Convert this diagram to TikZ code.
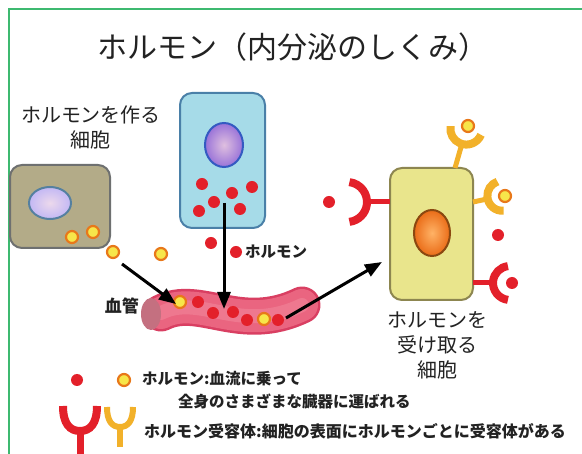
\documentclass[tikz,border=0pt]{standalone}
\usepackage{fontspec}
\newfontfamily\jp{Noto Sans CJK JP}
\usetikzlibrary{arrows.meta,shapes.geometric}

\definecolor{framegreen}{HTML}{3DB970}
\definecolor{hred}{HTML}{E3202A}
\definecolor{hyellow}{HTML}{F7E64A}
\definecolor{horange}{HTML}{E8781A}
\definecolor{rorange}{HTML}{F2B12A}
\definecolor{oldcell}{HTML}{B3AB88}
\definecolor{oldedge}{HTML}{6E7070}
\definecolor{bluecell}{HTML}{A6DBE8}
\definecolor{blueedge}{HTML}{4A80A8}
\definecolor{yelcell}{HTML}{E9E58C}
\definecolor{yeledge}{HTML}{8D8650}
\definecolor{vesseledge}{HTML}{D93F62}
\definecolor{vesselfill}{HTML}{EA6580}
\definecolor{vessellight}{HTML}{F28C9E}
\definecolor{vesselend}{HTML}{C47080}
\definecolor{textgray}{HTML}{222222}

\tikzset{
  cellbox/.style={draw, line width=2, rounded corners=12, inner sep=0},
  nucleus/.style={ellipse, draw, line width=2, inner sep=0},
  reddot/.style={circle, fill=hred, minimum size=12, inner sep=0},
  yeldot/.style={circle, fill=hyellow, draw=horange, line width=2.2, minimum size=12, inner sep=0},
  flowarrow/.style={line width=3, -{Triangle[length=17,width=13]}},
  serifjp/.style={font=\jp\fontsize{20}{25}\selectfont, text=textgray, align=center, inner sep=0},
  boldjp/.style={font=\jp\bfseries\fontsize{15.5}{16}\selectfont, text=textgray, inner sep=0},
  pics/receptor/.style n args={4}{code={
    \draw[#1, line width=5] (0,0) -- (#2+1,0);
    \draw[#1, line width=#4] (#2+#3,0) ++(97:#3) arc[start angle=97, end angle=263, radius=#3];
  }},
}

\begin{document}
\begin{tikzpicture}[x=1pt, y=-1pt]
\useasboundingbox (0,0) rectangle (582,454);
\fill[white] (0,0) rectangle (582,454);

% green frame
\draw[framegreen, line width=2.5] (9,470) -- (9,9) -- (600,9);

% title
\node[font=\jp\fontsize{30}{30}\selectfont, text=textgray, inner sep=0] (title) at (293,47) {ホルモン（内分泌のしくみ）};

% hormone-producing cell (olive)
\node[cellbox, fill=oldcell, draw=oldedge, minimum width=100, minimum height=83] (cellA) at (60,206.5) {};
\node[nucleus, draw=blueedge!80!gray, inner color=violet!15!white, outer color=violet!30!blue!28!white, minimum width=42, minimum height=32] (nucA) at (50,203) {};
\node[yeldot] (ya1) at (72,237) {};
\node[yeldot] (ya2) at (93,232) {};
\node[serifjp] (labelA) at (91,127) {ホルモンを作る\\細胞};

% hormone-producing cell (blue)
\node[cellbox, fill=bluecell, draw=blueedge, minimum width=85, minimum height=135] (cellB) at (222.5,160.5) {};
\node[nucleus, draw=blueedge!70!blue, inner color=violet!25!white, outer color=violet!55!blue!55!white, minimum width=38, minimum height=44] (nucB) at (224,145) {};
\node[reddot] (rb1) at (202,184) {};
\node[reddot] (rb2) at (232,193) {};
\node[reddot] (rb3) at (252,187) {};
\node[reddot] (rb4) at (214,202) {};
\node[reddot] (rb5) at (199,211) {};
\node[reddot] (rb6) at (240,209) {};

% released hormones
\node[reddot] (rf1) at (211,243) {};
\node[reddot] (rf2) at (236,252) {};
\node[yeldot] (yf1) at (113,252) {};
\node[yeldot] (yf2) at (161,254) {};
\node[boldjp, anchor=west] (hormlabel) at (245,252) {ホルモン};

% blood vessel
\coordinate (v0) at (161,313);
\coordinate (v1) at (302,305);
\draw[vesseledge, line width=37, line cap=round] (v0) .. controls (200,293) and (240,335) .. (v1);
\draw[vesselfill, line width=32, line cap=round] (v0) .. controls (200,293) and (240,335) .. (v1);
\draw[vessellight, line width=14, line cap=round, opacity=0.5] (v0) .. controls (200,293) and (240,335) .. (v1);
\node[ellipse, fill=vesselend, minimum width=20, minimum height=32, inner sep=0] (vopen) at (151,314) {};
\node[boldjp, font=\jp\bfseries\fontsize{17}{17}\selectfont, anchor=east] (vessellabel) at (139,306) {血管};
\node[yeldot] (vy1) at (180,302) {};
\node[reddot] (vr1) at (198,302) {};
\node[reddot] (vr2) at (213,313) {};
\node[reddot] (vr3) at (233,312) {};
\node[reddot] (vr4) at (247,320) {};
\node[yeldot] (vy2) at (264,319) {};
\node[reddot] (vr5) at (278,320) {};

% target cell (yellow)
\node[cellbox, fill=yelcell, draw=yeledge, minimum width=83, minimum height=132] (cellC) at (431.5,234) {};
\node[nucleus, draw=horange!60!black, inner color=orange!60!white, outer color=horange!90!red, minimum width=36, minimum height=46] (nucC) at (432,233) {};
\node[serifjp] (labelC) at (437,345) {ホルモンを\\受け取る\\細胞};

% receptors on the target cell
\coordinate (recL) at (390,202);
\coordinate (recT) at (455,168);
\coordinate (recM) at (473,202);
\coordinate (recB) at (473,283);
\pic[rotate=180] at (recL) {receptor={hred}{23}{20}{8}};
\pic[rotate=74] at (recT) {receptor={rorange}{25}{16}{8}};
\pic[rotate=12] at (recM) {receptor={rorange}{15}{15}{8}};
\pic[rotate=0] at (recB) {receptor={hred}{20}{17}{8}};
\node[reddot] (rc1) at (329,202) {};
\node[yeldot] (yc1) at (468,126) {};
\node[yeldot] (yc2) at (505,196) {};
\node[reddot] (rc2) at (498,235) {};
\node[reddot] (rc3) at (512,283) {};

% flow arrows
\coordinate (a1s) at (122,264);
\coordinate (a1e) at (176,304);
\coordinate (a2s) at (224,203);
\coordinate (a2e) at (224,309);
\coordinate (a3s) at (286,318);
\coordinate (a3e) at (382,262);
\draw[flowarrow] (a1s) -- (a1e);
\draw[flowarrow] (a2s) -- (a2e);
\draw[flowarrow] (a3s) -- (a3e);

% legend
\node[reddot] (lr) at (77,380) {};
\node[yeldot] (ly) at (124,380) {};
\node[boldjp, anchor=west] (leg1) at (142,379) {ホルモン:血流に乗って};
\node[boldjp, anchor=west] (leg2) at (178,401) {全身のさまざまな臓器に運ばれる};
\draw[hred, line width=8] (63,406) .. controls (63,424) and (70,431) .. (80,431) .. controls (90,431) and (97,424) .. (97,406);
\draw[hred, line width=7] (80,428) -- (80,458);
\draw[rorange, line width=6] (107,407) .. controls (107,421) and (112,427) .. (120,427) .. controls (128,427) and (133,421) .. (133,407);
\draw[rorange, line width=6] (120,425) -- (120,447);
\node[boldjp, font=\jp\bfseries\fontsize{16}{16}\selectfont, anchor=east] (leg3) at (566,431) {ホルモン受容体:細胞の表面にホルモンごとに受容体がある};
\end{tikzpicture}
\end{document}
